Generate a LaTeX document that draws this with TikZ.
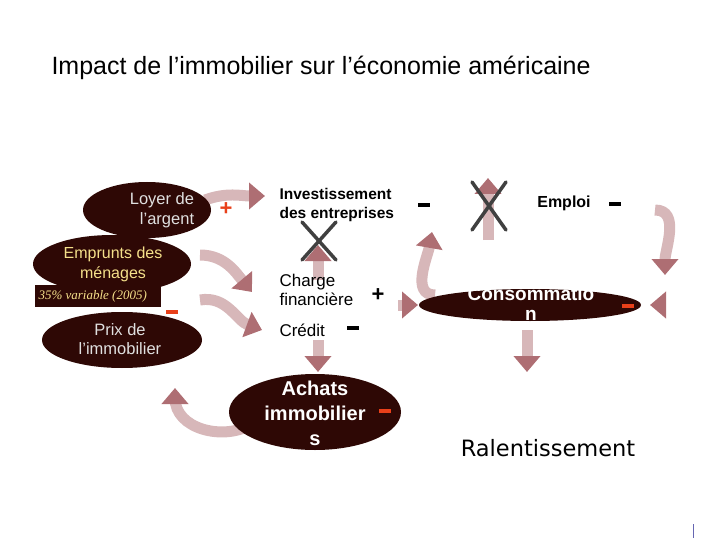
\documentclass[tikz,border=0pt]{standalone}
\usepackage{fontspec}
\setmainfont{Liberation Sans}
\newfontfamily\comicf{DejaVu Sans}
\newfontfamily\serifit{Liberation Serif}
\usetikzlibrary{arrows.meta,shapes.geometric}
\definecolor{dbrown}{HTML}{2E0805}
\definecolor{flowred}{HTML}{9A4A50}
\definecolor{signred}{HTML}{E8401A}
\definecolor{yel}{HTML}{F5E08A}
\begin{document}
\begin{tikzpicture}[x=1pt,y=-1pt,
  blob/.style={ellipse,fill=dbrown,inner sep=0pt},
  flow/.style={line width=11pt,draw=flowred!40,-{Triangle[length=16pt,width=26pt,color=flowred!80]}},
  sgn/.style={font=\bfseries\fontsize{22}{22}\selectfont},
  lab/.style={font=\fontsize{17}{19}\selectfont,align=left,text=black},
  cross/.style={line width=3.5pt,draw=black!75,line cap=round}]
\useasboundingbox (0,0) rectangle (720,540);
\node[anchor=west,font=\fontsize{25}{28}\selectfont] (title) at (48,68) {Impact de l’immobilier sur l’économie américaine};

% flows (behind)
\draw[flow] (205,200) to[out=20,in=180] (265,196);
\draw[flow] (200,255) to[out=0,in=130] (252,292);
\draw[flow] (200,300) to[out=10,in=160] (262,330);
\draw[flow] (250,425) to[out=210,in=270] (175,398) -- (175,388);
\draw[flow] (318,280) -- (318,245);
\draw[flow] (318,340) -- (318,372);
\draw[flow] (398,305) -- (418,305);
\draw[flow] (435,295) to[out=180,in=260] (432,232);
\draw[flow] (655,210) to[out=0,in=90] (665,275);
\draw[flow] (662,305) -- (650,305);
\draw[flow] (488,240) -- (488,178);
\draw[flow] (527,330) -- (527,372);

% left blobs
\node[blob,minimum width=128pt,minimum height=56pt] (loyer) at (147,210) {};
\node[align=right,text=white!88!black,font=\fontsize{16.5}{20}\selectfont] (loyert) at (162,210) {Loyer de\\l’argent};
\node[blob,minimum width=158pt,minimum height=58pt] (empr) at (112,264) {};
\node[fill=dbrown,minimum width=126pt,minimum height=22pt,inner sep=0pt] (pct) at (98,296) {};
\node[text=yel,font=\serifit\itshape\fontsize{13}{14}\selectfont,anchor=west] (pctt) at (35,296) {35\% variable (2005)};
\node[align=center,text=yel,font=\fontsize{16}{20}\selectfont] (emprt) at (113,264) {Emprunts des\\ménages};
\node[blob,minimum width=160pt,minimum height=56pt] (prix) at (122,340) {};
\node[align=center,text=white!88!black,font=\fontsize{16.5}{19}\selectfont] (prixt) at (120,339) {Prix de\\l’immobilier};
\node[sgn,text=signred] (s1) at (226,209) {+};
\node[sgn,text=signred] (s2) at (172,312) {\rule{12pt}{4pt}};

% middle column
\node[lab,anchor=west,font=\bfseries\fontsize{15.5}{19}\selectfont] (inv) at (276,205) {Investissement\\des entreprises};
\draw[cross] (302,222) -- (336,260) (336,222) -- (302,260);
\node[lab,anchor=west] (charge) at (276,290) {Charge\\financière};
\node[sgn] (s3) at (378,295) {+};
\node[lab,anchor=west] (credit) at (276,330) {Crédit};
\node[sgn] (s4) at (353,328) {\rule{12pt}{4pt}};
\node[blob,minimum width=172pt,minimum height=76pt] (achat) at (315,412) {};
\node[align=center,text=white,font=\bfseries\fontsize{20}{25}\selectfont] (achatt) at (315,413) {Achats\\immobilier\\s};
\node[sgn,text=signred] (s5) at (385,411) {\rule{12pt}{4.5pt}};

% right column
\node[sgn] (s6) at (424,205) {\rule{12pt}{4pt}};
\draw[cross] (472,182) -- (506,230) (506,182) -- (472,230);
\node[font=\bfseries\fontsize{16}{18}\selectfont] (emploi) at (564,203) {Emploi};
\node[sgn] (s7) at (615,204) {\rule{12pt}{4pt}};
\node[blob,minimum width=222pt,minimum height=32pt] (conso) at (530,305) {};
\node[align=center,text=white,font=\bfseries\fontsize{19}{20}\selectfont] (consot) at (531,304) {Consommatio\\n};
\node[sgn,text=signred] (s8) at (628,306) {\rule{12pt}{4.5pt}};
\node[font=\comicf\fontsize{22.5}{24}\selectfont] (ral) at (548,448) {Ralentissement};
\draw[draw=blue!50!black!60,line width=1pt] (693,524) -- (693,538);
\end{tikzpicture}
\end{document}
